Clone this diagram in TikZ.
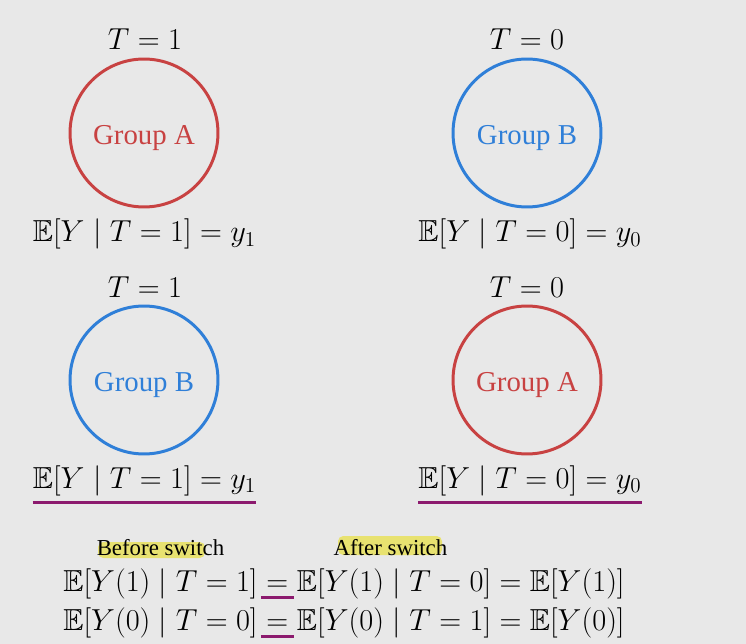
\documentclass[tikz,border=0pt]{standalone}
\usepackage{amssymb}
\usepackage{fontspec}
\newfontfamily\labelfont{Liberation Serif}
\usetikzlibrary{positioning}
\definecolor{grpred}{RGB}{200,66,66}
\definecolor{grpblue}{RGB}{47,127,216}
\definecolor{ulpurple}{RGB}{140,26,110}
\definecolor{hlyellow}{RGB}{232,226,112}
\definecolor{bggray}{RGB}{232,232,232}
\begin{document}
\begin{tikzpicture}[x=0.02cm, y=-0.02cm,
    grp/.style={circle, draw, line width=1.7pt, minimum size=2.96cm, inner sep=0pt,
        text height=13.6pt, text depth=0pt, font=\labelfont\fontsize{16.4}{19}\selectfont},
    mth/.style={inner sep=0pt, font=\fontsize{17.3}{20}\selectfont},
    tag/.style={inner sep=0pt, anchor=base, font=\labelfont\fontsize{13}{15}\selectfont},
    uline/.style={ulpurple, line width=1.7pt},
    hilite/.style={fill=hlyellow, rounded corners=3pt}]
        % Hintergrund
        \fill[bggray] (0,0) rectangle (746,644);
        \useasboundingbox (0,0) rectangle (746,644);
        % vor dem Tausch
        \node[mth] (tA1) at (145,39) {$T = 1$};
        \node[mth] (tB0) at (527,39) {$T = 0$};
        \node[grp, grpred] (grpA1) at (144,133) {Group A};
        \node[grp, grpblue] (grpB0) at (527,133) {Group B};
        \node[mth, anchor=base] (yA1) at (144.5,242) {$\mathbb{E}[Y \mid T = 1] = y_1$};
        \node[mth, anchor=base] (yB0) at (530,242) {$\mathbb{E}[Y \mid T = 0] = y_0$};
        % nach dem Tausch
        \node[mth] (tB1) at (145,287) {$T = 1$};
        \node[mth] (tA0) at (527,287) {$T = 0$};
        \node[grp, grpblue] (grpB1) at (144,380) {Group B};
        \node[grp, grpred] (grpA0) at (527,380) {Group A};
        \node[mth, anchor=base] (yB1) at (144.5,488) {$\mathbb{E}[Y \mid T = 1] = y_1$};
        \node[mth, anchor=base] (yA0) at (530,488) {$\mathbb{E}[Y \mid T = 0] = y_0$};
        \draw[uline] ([yshift=-0.14cm]yB1.south west) -- ([yshift=-0.14cm]yB1.south east);
        \draw[uline] ([yshift=-0.14cm]yA0.south west) -- ([yshift=-0.14cm]yA0.south east);
        % Markierungen
        \fill[hilite] (98,542) rectangle (205,558);
        \fill[hilite] (338,536) rectangle (442,555);
        \node[tag] (before) at (160.5,555) {Before switch};
        \node[tag] (after) at (390.5,555) {After switch};
        % Gleichungen
        \node[mth, anchor=base west] (lhs1) at (63,591) {$\mathbb{E}[Y(1) \mid T = 1]$};
        \node[mth, right=4.6pt of lhs1.base east, anchor=base west] (eq1) {$=$};
        \node[mth, right=4.6pt of eq1.base east, anchor=base west] (rhs1)
            {$\mathbb{E}[Y(1) \mid T = 0] = \mathbb{E}[Y(1)]$};
        \node[mth, anchor=base west] (lhs0) at (63,630) {$\mathbb{E}[Y(0) \mid T = 0]$};
        \node[mth, right=4.6pt of lhs0.base east, anchor=base west] (eq0) {$=$};
        \node[mth, right=4.6pt of eq0.base east, anchor=base west] (rhs0)
            {$\mathbb{E}[Y(0) \mid T = 1] = \mathbb{E}[Y(0)]$};
        \draw[uline] ([xshift=-0.1cm, yshift=-0.13cm]eq1.base west) -- ([xshift=0.1cm, yshift=-0.13cm]eq1.base east);
        \draw[uline] ([xshift=-0.1cm, yshift=-0.13cm]eq0.base west) -- ([xshift=0.1cm, yshift=-0.13cm]eq0.base east);
\end{tikzpicture}
\end{document}
